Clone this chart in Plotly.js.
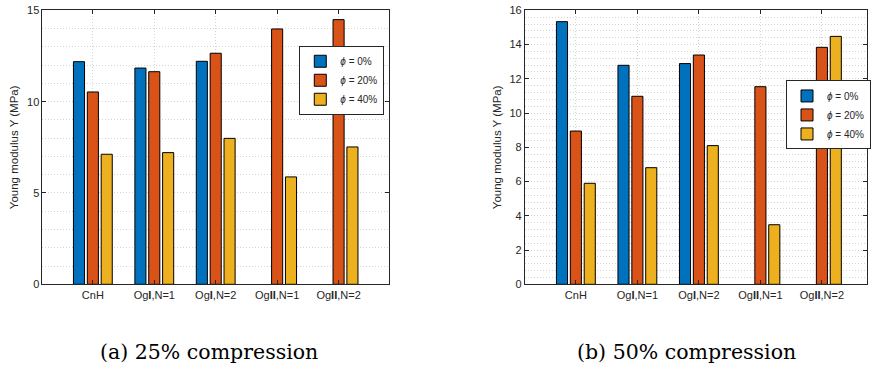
<!DOCTYPE html>
<html>
<head>
<meta charset="utf-8">
<script src="https://cdn.plot.ly/plotly-3.0.1.min.js"></script>
<style>html,body{margin:0;padding:0;background:#fff;}#plot{width:871px;height:369px;}</style>
</head>
<body>
<div id="plot"></div>
<script>
// Categories and tick labels
const categoryPos = [1, 2, 3, 4, 5];
const categoryLabels = ["CnH", "Og<b>I</b>,N=1", "Og<b>I</b>,N=2", "Og<b>II</b>,N=1", "Og<b>II</b>,N=2"];
const seriesNames = ["<i>ϕ</i> = 0%", "<i>ϕ</i> = 20%", "<i>ϕ</i> = 40%"];
const seriesColors = ["#0072BD", "#D95319", "#EDB120"];

// (a) 25% compression — Young modulus (MPa)
const comp25_phi0  = [12.19, 11.84, 12.21, null, null];
const comp25_phi20 = [10.53, 11.64, 12.65, 13.98, 14.49];
const comp25_phi40 = [7.12, 7.21, 7.99, 5.88, 7.52];

// (b) 50% compression — Young modulus (MPa)
const comp50_phi0  = [15.34, 12.79, 12.89, null, null];
const comp50_phi20 = [8.95, 10.98, 13.39, 11.54, 13.84];
const comp50_phi40 = [5.90, 6.81, 8.10, 3.48, 14.48];

const left = [comp25_phi0, comp25_phi20, comp25_phi40];
const right = [comp50_phi0, comp50_phi20, comp50_phi40];

const traces = [];
left.forEach((vals, i) => traces.push({
  type: "bar", x: categoryPos, y: vals, name: seriesNames[i],
  xaxis: "x", yaxis: "y", legend: "legend",
  marker: {color: seriesColors[i], line: {color: "#000", width: 1}},
  hoverinfo: "skip"
}));
right.forEach((vals, i) => traces.push({
  type: "bar", x: categoryPos, y: vals, name: seriesNames[i],
  xaxis: "x2", yaxis: "y2", legend: "legend2",
  marker: {color: seriesColors[i], line: {color: "#000", width: 1}},
  hoverinfo: "skip"
}));

const axisCol = "#262626";
const gridCol = "#d4d4d4";
const gridDash = "1px,2px";
const tickFont = {family: "Liberation Sans, Arial, sans-serif", size: 11, color: axisCol};

function xAxis(domain, range, anchor) {
  return {
    domain: domain, range: range, anchor: anchor,
    tickvals: categoryPos, ticktext: categoryLabels,
    showgrid: true, gridcolor: gridCol, griddash: gridDash, gridwidth: 1,
    ticks: "inside", ticklen: 4, tickcolor: axisCol,
    showline: true, linecolor: axisCol, linewidth: 1, mirror: "allticks",
    zeroline: false, tickfont: tickFont, fixedrange: true
  };
}
function yAxis(domain, range, dtick, minorDtick, anchor) {
  return {
    domain: domain, range: range, anchor: anchor, dtick: dtick, tick0: 0,
    showgrid: true, gridcolor: gridCol, griddash: gridDash, gridwidth: 1,
    minor: {dtick: minorDtick, tick0: 0, showgrid: true, gridcolor: gridCol, griddash: gridDash, gridwidth: 1},
    ticks: "inside", ticklen: 4, tickcolor: axisCol,
    showline: true, linecolor: axisCol, linewidth: 1, mirror: "allticks",
    zeroline: false, tickfont: tickFont, fixedrange: true,
    title: {text: "Young modulus Y (MPa)", font: {family: "Liberation Sans, Arial, sans-serif", size: 11.5, color: axisCol}, standoff: 5}
  };
}

const legendStyle = (x, y) => ({
  x: x, y: y, xanchor: "left", yanchor: "top", xref: "paper", yref: "paper",
  bgcolor: "#fff", bordercolor: axisCol, borderwidth: 1,
  font: {family: "Liberation Sans, Arial, sans-serif", size: 10, color: axisCol},
  tracegroupgap: 0, itemwidth: 30
});

const layout = {
  width: 871, height: 369,
  margin: {l: 0, r: 0, t: 0, b: 0},
  paper_bgcolor: "#fff", plot_bgcolor: "#fff",
  barmode: "group", bargap: 0.323, bargroupgap: 0.2,
  showlegend: true,
  xaxis: xAxis([0.049, 0.4486], [0.18, 5.82], "y"),
  yaxis: yAxis([0.2295, 0.972], [0, 15], 5, 1, "x"),
  xaxis2: xAxis([0.6054, 1.0], [0.171, 5.733], "y2"),
  yaxis2: yAxis([0.2295, 0.972], [0, 16], 2, 0.4, "x2"),
  legend: legendStyle(0.3452, 0.876),
  legend2: legendStyle(0.907, 0.782),
  annotations: [
    {text: "(a) 25% compression", xref: "paper", yref: "paper", x: 0.241, y: 0.046,
     showarrow: false, xanchor: "center", yanchor: "middle",
     font: {family: "DejaVu Serif, Liberation Serif, serif", size: 20.5, color: "#000"}},
    {text: "(b) 50% compression", xref: "paper", yref: "paper", x: 0.792, y: 0.046,
     showarrow: false, xanchor: "center", yanchor: "middle",
     font: {family: "DejaVu Serif, Liberation Serif, serif", size: 20.5, color: "#000"}}
  ]
};

Plotly.newPlot("plot", traces, layout, {staticPlot: true, displayModeBar: false});
</script>
</body>
</html>
